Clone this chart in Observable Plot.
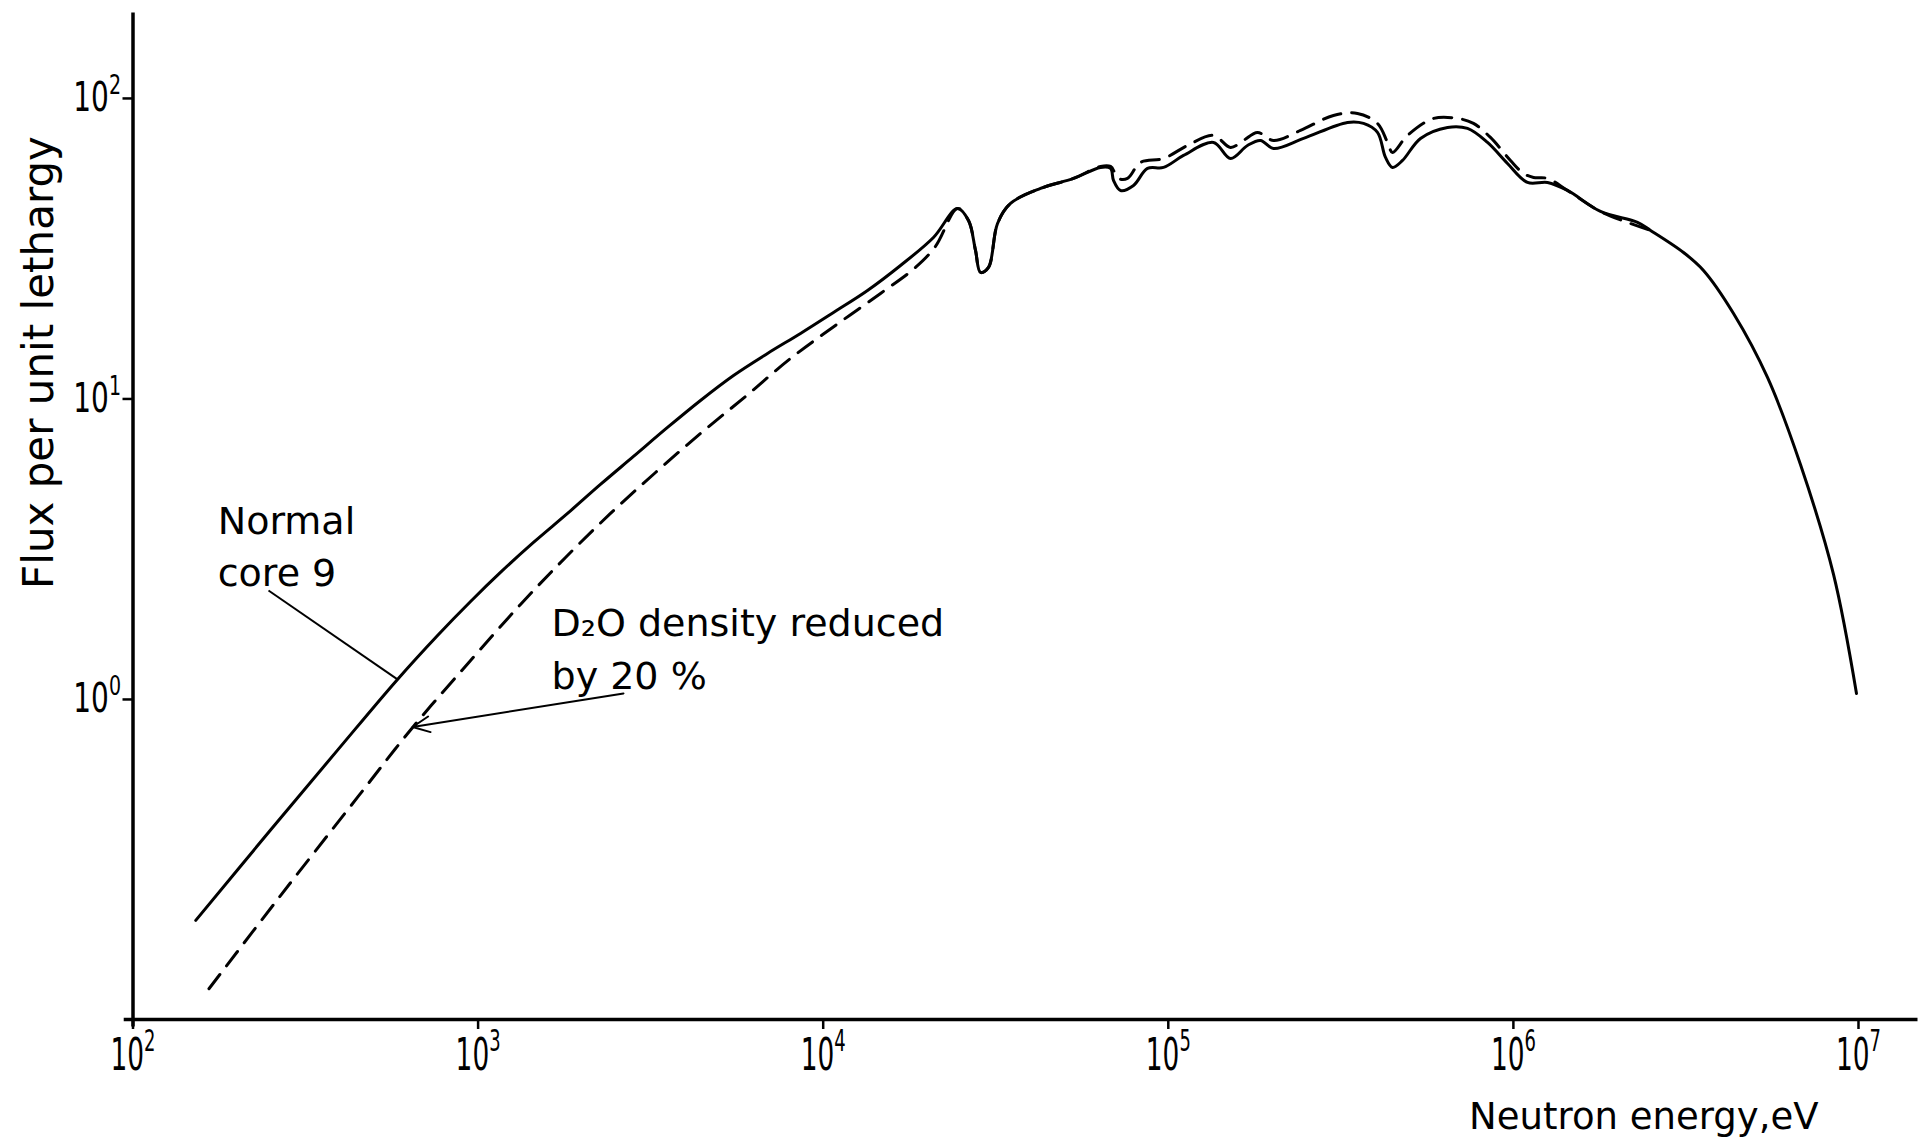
<!DOCTYPE html>
<html>
<head>
<meta charset="utf-8">
<script src="https://cdn.jsdelivr.net/npm/d3@7"></script>
<script src="https://cdn.jsdelivr.net/npm/@observablehq/plot@0.6"></script>
<style>
  html, body { margin: 0; padding: 0; background: #fff; }
  svg { display: block; }
</style>
</head>
<body>
<div id="chart"></div>
<script>
// ---- Normal core 9 (solid) ----
const normalE = [152, 250, 391, 584, 763, 951, 1161, 1447, 1816, 2262, 2820,
  3539, 4410, 5497, 6896, 8595, 10710, 13440, 16750, 20870, 24500,
  26370, 27630, 28570, 30130, 32000, 34900, 42630, 53130, 63640, 68020,
  69390, 72700, 79290, 87030, 96850, 110700, 135200, 151500, 169600, 185000,
  201800, 246500, 330500, 367900, 403800, 426000, 446400, 477200, 538000, 644500,
  736200, 841400, 961400, 1098800, 1255600, 1435000, 1788000, 2289000, 2497000, 3111000,
  3555000, 4344000, 5449000, 6790000, 8465000, 9867000];
const normalFlux = [0.184, 0.367, 0.677, 1.166, 1.633, 2.119, 2.647, 3.330, 4.159, 5.193, 6.437,
  8.038, 9.886, 11.97, 14.17, 16.52, 19.40, 22.96, 27.81, 34.46, 43.05,
  39.26, 31.2, 26.36, 27.39, 38.37, 44.74, 50.18, 54.17, 58.94, 58.49,
  53.35, 49.41, 51.34, 58.49, 58.94, 64.61, 71.38, 63.14, 69.76, 72.47,
  68.17, 73.60, 83.21, 82.58, 77.08, 63.63, 58.94, 62.18, 73.60, 80.09,
  79.47, 71.38, 60.76, 52.54, 52.54, 49.41, 42.07, 38.67, 36.37, 30.72,
  26.77, 19.25, 11.79, 6.05, 2.606, 1.047];

// ---- D2O density reduced by 20 % (dashed) ----
const reducedE = [166, 268, 447, 646, 951, 1327, 1792, 2419, 3267, 4410,
  5955, 8040, 10850, 14660, 18510, 21150, 24500, 26370, 27630, 28570,
  30130, 32000, 34900, 42630, 53130, 63640, 68020, 71730, 76160, 83070,
  96850, 113700, 135200, 151500, 165100, 181300, 201800, 241600, 301000, 353400,
  403800, 431800, 446400, 493300, 586900, 689000, 766300, 858200, 980800, 1070000,
  1144000, 1255600, 1435000, 1788000, 2497000];
const reducedFlux = [0.109, 0.223, 0.472, 0.807, 1.348, 2.071, 2.969, 4.159, 5.692, 7.677,
  10.19, 13.64, 17.56, 22.44, 27.39, 32.18, 43.05, 39.26, 31.2, 26.36,
  27.39, 38.37, 44.74, 50.18, 54.17, 59.39, 59.39, 54.17, 54.17, 61.24,
  63.14, 69.76, 75.32, 68.69, 72.47, 77.08, 72.47, 78.26, 87.8, 89.17,
  82.58, 71.38, 66.11, 75.32, 85.79, 85.79, 82.58, 74.19, 62.18, 56.29,
  54.59, 54.17, 49.41, 42.07, 36.37];

// ---- ticks ----
const xTicks = [1e2, 1e3, 1e4, 1e5, 1e6, 1e7];
const xTickLabels = ["10²", "10³", "10⁴", "10⁵", "10⁶", "10⁷"];
const yTicks = [1, 10, 100];
const yTickLabels = ["10⁰", "10¹", "10²"];

// ---- annotations ----
const annText = ["Normal", "core 9", "D₂O density reduced", "by 20 %"];
const annE = [176, 176, 1632, 1632];
const annFlux = [3.91, 2.61, 1.78, 1.19];
const pointerNormal = [{x1: 247, y1: 2.305, x2: 584, y2: 1.166}];
const pointerReduced = [{x1: 2638, y1: 1.047, x2: 646, y2: 0.810}];

// ---- frame ----
const xMin = 100, xMax = Math.pow(10, 7.171);
const yMin = Math.pow(10, -1.065), yMax = Math.pow(10, 2.286);
const axisLines = [
  {x1: 94, y1: yMin, x2: xMax, y2: yMin},
  {x1: xMin, y1: 0.0816, x2: xMin, y2: yMax}
];

const normal = normalE.map((e, i) => ({e, f: normalFlux[i]}));
const reduced = reducedE.map((e, i) => ({e, f: reducedFlux[i]}));

const font = "'DejaVu Sans', 'Liberation Sans', sans-serif";
const xTickFont = 44, yTickFont = 40;

const svg = Plot.plot({
  width: 1923,
  height: 1146,
  marginLeft: 132.5,
  marginRight: 6,
  marginTop: 12,
  marginBottom: 127,
  style: {fontFamily: font, background: "white", color: "black"},
  x: {type: "log", domain: [xMin, xMax], axis: null},
  y: {type: "log", domain: [yMin, yMax], axis: null},
  marks: [
    Plot.link(axisLines, {x1: "x1", y1: "y1", x2: "x2", y2: "y2", stroke: "black", strokeWidth: 3.5}),
    Plot.axisX({ticks: xTicks, tickFormat: d => xTickLabels[xTicks.indexOf(d)], tickSize: 10, tickPadding: 9, fontSize: xTickFont, strokeWidth: 2.5}),
    Plot.axisY({ticks: yTicks, tickFormat: d => yTickLabels[yTicks.indexOf(d)], tickSize: 10, tickPadding: 2, fontSize: yTickFont, strokeWidth: 2.5}),
    Plot.line(normal, {x: "e", y: "f", stroke: "black", strokeWidth: 3, curve: "catmull-rom"}),
    Plot.line(reduced, {x: "e", y: "f", stroke: "black", strokeWidth: 3, strokeDasharray: "18,11", curve: "catmull-rom"}),
    Plot.link(pointerNormal, {x1: "x1", y1: "y1", x2: "x2", y2: "y2", stroke: "black", strokeWidth: 2}),
    Plot.arrow(pointerReduced, {x1: "x1", y1: "y1", x2: "x2", y2: "y2", stroke: "black", strokeWidth: 2, headLength: 14, headAngle: 50}),
    Plot.text(annText, {x: (d, i) => annE[i], y: (d, i) => annFlux[i], text: d => d, textAnchor: "start", lineAnchor: "middle", fontSize: 38, fill: "black"}),
    Plot.text(["Neutron energy,eV"], {frameAnchor: "bottom-right", dx: -99, dy: 98, text: d => d, textAnchor: "end", lineAnchor: "middle", fontSize: 37, fill: "black"}),
    Plot.text(["Flux per unit lethargy"], {frameAnchor: "left", dx: -93.5, dy: -153.5, text: d => d, rotate: -90, textAnchor: "middle", lineAnchor: "middle", fontSize: 42, fill: "black"})
  ]
});

document.getElementById("chart").append(svg);

// typeset tick labels as 10 with a raised exponent, condensed like the original lettering
const supDigits = {"⁰": "0", "¹": "1", "²": "2", "³": "3", "⁴": "4", "⁵": "5", "⁶": "6", "⁷": "7"};
function styleTicks(selector, fs, s) {
  d3.select(svg).selectAll(selector).each(function () {
    const label = this.textContent;
    const exp = supDigits[label.slice(2)] ?? label.slice(2);
    this.textContent = label.slice(0, 2);
    d3.select(this).append("tspan")
      .attr("dy", -0.42 * fs)
      .attr("font-size", 0.68 * fs)
      .text(exp);
    const t = this.getAttribute("transform") || "";
    this.setAttribute("transform", `${t} scale(${s},1)`);
  });
}
styleTicks('g[aria-label="x-axis tick label"] text', xTickFont, 0.6);
styleTicks('g[aria-label="y-axis tick label"] text', yTickFont, 0.7);
</script>
</body>
</html>
